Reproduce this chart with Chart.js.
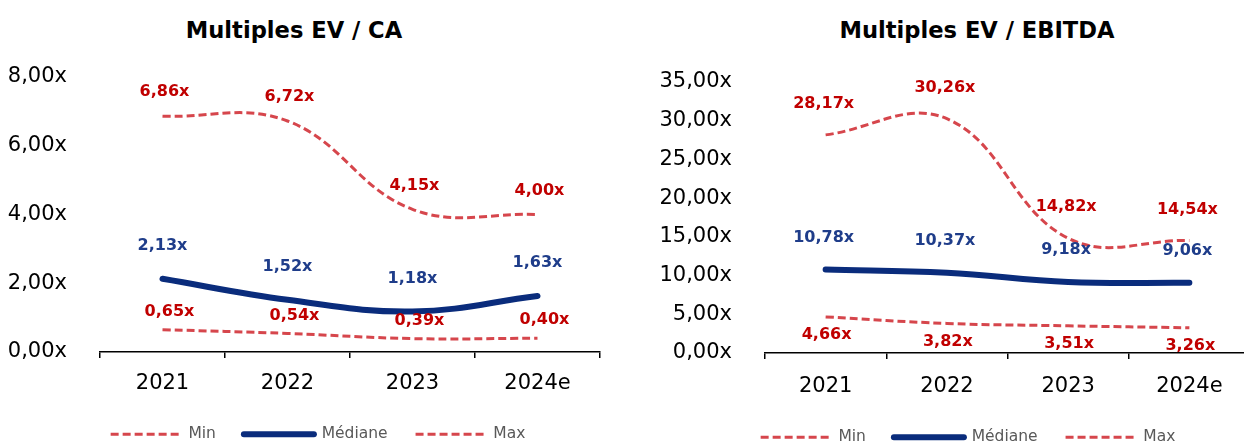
<!DOCTYPE html>
<html>
<head>
<meta charset="utf-8">
<script src="https://cdn.jsdelivr.net/npm/chart.js@4.4.1/dist/chart.umd.min.js"></script>
<style>
  html, body { margin: 0; padding: 0; background: #ffffff; }
  body { width: 1244px; height: 444px; overflow: hidden; position: relative; }
  .title { position: absolute; top: 16px; width: 600px; text-align: center;
           font: bold 22.6px "DejaVu Sans"; line-height: 28px; color: #000; white-space: nowrap; }
  .wrap { position: absolute; top: 0; }
  canvas { display: block; }
</style>
</head>
<body>
<div class="title" style="left:-6px">Multiples EV / CA</div>
<div class="title" style="left:677px">Multiples EV / EBITDA</div>
<div class="wrap" style="left:0px"><canvas id="ca" width="622" height="452"></canvas></div>
<div class="wrap" style="left:622px"><canvas id="eb" width="640" height="455"></canvas></div>
<script>
// ---- Data ----
const categories = ['2021', '2022', '2023', '2024e'];
const seriesNames = ['Min', 'Médiane', 'Max'];

const caMin = [0.65, 0.54, 0.39, 0.40];
const caMed = [2.13, 1.52, 1.18, 1.63];
const caMax = [6.86, 6.72, 4.15, 4.00];

const ebMin = [4.66, 3.82, 3.51, 3.26];
const ebMed = [10.78, 10.37, 9.18, 9.06];
const ebMax = [28.17, 30.26, 14.82, 14.54];

const caAxis = { min: 0, max: 8, step: 2 };
const ebAxis = { min: 0, max: 35, step: 5 };

// ---- Styling ----
const RED_LINE = '#D6464C';
const RED_TEXT = '#C00000';
const NAVY_LINE = '#0A2C7C';
const NAVY_TEXT = '#1F3D8A';
const FONT = '"DejaVu Sans"';

const fmt = v => v.toFixed(2).replace('.', ',') + 'x';

const valueLabels = {
  id: 'valueLabels',
  afterLayout(chart) {
    const lay = chart.config.options.customLayout;
    if (lay && chart.legend) {
      const w = chart.legend.right - chart.legend.left;
      chart.legend.left = lay.legendLeft;
      chart.legend.right = lay.legendLeft + w - lay.legendLeft;
      chart.legend.right = lay.legendRight;
    }
  },
  afterDatasetsDraw(chart) {
    const ctx = chart.ctx;
    chart.data.datasets.forEach((ds, i) => {
      const meta = chart.getDatasetMeta(i);
      const st = ds.labelStyle;
      ctx.save();
      ctx.font = 'bold 16px ' + FONT;
      ctx.fillStyle = st.color;
      ctx.textAlign = 'center';
      ctx.textBaseline = 'middle';
      meta.data.forEach((pt, j) => {
        ctx.fillText(fmt(ds.data[j]), pt.x + st.dx, pt.y + st.dy);
      });
      ctx.restore();
    });
  }
};

function legendLabels(chart) {
  const items = Chart.defaults.plugins.legend.labels.generateLabels(chart);
  items.forEach(it => {
    const ds = chart.data.datasets[it.datasetIndex];
    it.lineDash = ds.borderDash || [];
    it.lineWidth = ds.borderWidth;
    it.lineCap = ds.borderCapStyle || 'butt';
    it.strokeStyle = ds.borderColor;
    it.fillStyle = ds.borderColor;
    it.pointStyle = 'line';
  });
  return items;
}

function makeChart(id, mins, meds, maxs, axis, lay) {
  const dashed = {
    borderColor: RED_LINE, backgroundColor: RED_LINE, borderWidth: 3,
    borderDash: [8, 4], borderCapStyle: 'butt', pointRadius: 0, tension: 0.4, fill: false
  };
  return new Chart(document.getElementById(id), {
    type: 'line',
    data: {
      labels: categories,
      datasets: [
        Object.assign({}, dashed, { label: seriesNames[0], data: mins, labelStyle: lay.minLab }),
        { label: seriesNames[1], data: meds, borderColor: NAVY_LINE, backgroundColor: NAVY_LINE,
          borderWidth: 6, borderCapStyle: 'round', pointRadius: 0, tension: 0.4, fill: false,
          labelStyle: lay.medLab },
        Object.assign({}, dashed, { label: seriesNames[2], data: maxs, labelStyle: lay.maxLab })
      ]
    },
    options: {
      responsive: false,
      animation: false,
      customLayout: { legendLeft: lay.legendLeft, legendRight: lay.legendRight },
      layout: { padding: { top: lay.top, left: 0, right: lay.right, bottom: 0 } },
      plugins: {
        title: { display: false },
        tooltip: { enabled: false },
        legend: {
          display: true,
          position: 'bottom',
          labels: {
            usePointStyle: true, pointStyle: 'line', pointStyleWidth: 70,
            padding: 28, color: '#595959',
            font: { family: FONT, size: 15.5 },
            generateLabels: legendLabels
          }
        }
      },
      scales: {
        x: {
          offset: true,
          grid: { display: true, offset: true, drawOnChartArea: false, drawTicks: true,
                  tickLength: 6, color: '#000', lineWidth: 1.5 },
          border: { display: true, color: '#000', width: 1.5 },
          ticks: { color: '#000', padding: lay.xPad, font: { family: FONT, size: 21 } },
          afterFit: s => { s.height = lay.xH; }
        },
        y: {
          min: axis.min, max: axis.max,
          grid: { display: false },
          border: { display: false },
          ticks: { stepSize: axis.step, color: '#000', padding: 25,
                   font: { family: FONT, size: 21 }, callback: v => fmt(v) },
          afterFit: s => { s.width = lay.yW; }
        }
      }
    },
    plugins: [valueLabels]
  });
}

makeChart('ca', caMin, caMed, caMax, caAxis, {
  top: 77, right: 22, yW: 100, xH: 46.5, xPad: 13, legendLeft: 36, legendRight: 600,
  minLab: { color: RED_TEXT, dx: 7, dy: -18 },
  medLab: { color: NAVY_TEXT, dx: 0, dy: -33 },
  maxLab: { color: RED_TEXT, dx: 2, dy: -24 }
});

makeChart('eb', ebMin, ebMed, ebMax, ebAxis, {
  top: 82, right: 12, yW: 143, xH: 48.5, xPad: 15, legendLeft: 64, legendRight: 628,
  minLab: { color: RED_TEXT, dx: 1, dy: 18 },
  medLab: { color: NAVY_TEXT, dx: -2, dy: -32 },
  maxLab: { color: RED_TEXT, dx: -2, dy: -31 }
});
</script>
</body>
</html>
